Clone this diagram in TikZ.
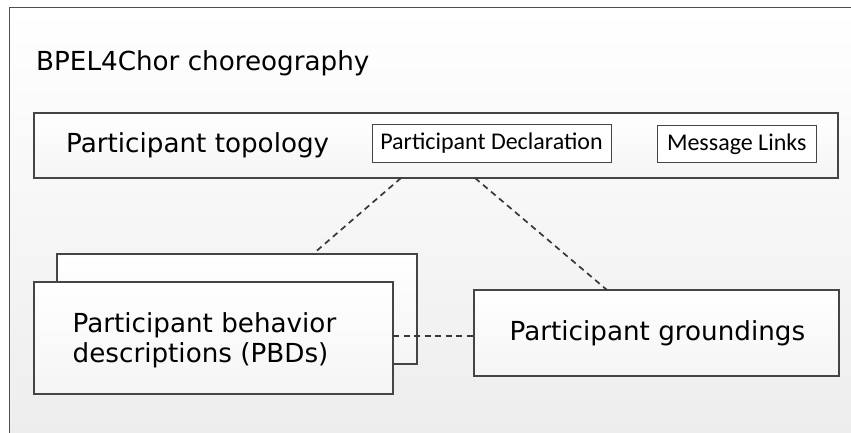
\documentclass[tikz,border=0pt]{standalone}
\usepackage{fontspec}
\newfontfamily\dejavu{DejaVu Sans}
\newfontfamily\carlito{Carlito}
\definecolor{frameline}{HTML}{505050}
\definecolor{boxline}{HTML}{454545}
\definecolor{dashline}{HTML}{383838}
\begin{document}
\begin{tikzpicture}[x=1pt,y=-1pt,
  box/.style={draw=boxline, line width=1.3pt, top color=white, bottom color=black!4,
    inner sep=0pt, outer sep=0pt},
  tag/.style={draw=boxline, line width=1pt, fill=white, inner sep=0pt, outer sep=0pt,
    font=\carlito\fontsize{24}{24}\selectfont},
  bigtext/.style={inner sep=0pt, anchor=base west, font=\dejavu\fontsize{26.2}{26}\selectfont},
  link/.style={draw=dashline, line width=1.7pt, dash pattern=on 6pt off 4.5pt}]
\useasboundingbox (0,0) rectangle (851,433);
% choreography frame
\fill[top color=white, bottom color=black!7] (9,8) rectangle (851,433);
\draw[frameline, line width=1pt] (9,433) -- (9,8) -- (851,8);
\node[bigtext] (title) at (36,71) {BPEL4Chor choreography};

% participant topology
\node[box, minimum width=804pt, minimum height=65pt] (topo) at (436,145.5) {};
\node[bigtext] (topotext) at (66,153) {Participant topology};
\node[tag, minimum width=239pt, minimum height=37pt] (decl) at (491.5,143.5) {Participant Declaration};
\node[tag, minimum width=158.5pt, minimum height=36pt] (links) at (736.75,144) {Message Links};

% participant behavior descriptions (stacked)
\node[box, minimum width=360pt, minimum height=110pt] (pbdback) at (237,309) {};
\node[box, minimum width=359pt, minimum height=112pt] (pbd) at (213.5,338) {};
\node[bigtext] (pbdtext1) at (72.5,332) {Participant behavior};
\node[bigtext] (pbdtext2) at (72.5,362) {descriptions (PBDs)};

% participant groundings
\node[box, minimum width=365pt, minimum height=86pt] (ground) at (656.5,333) {};
\node[bigtext] (groundtext) at (509.5,340.5) {Participant groundings};

% connectors
\draw[link] ([xshift=-35pt]topo.south) -- ([xshift=76pt]pbdback.north);
\draw[link] ([xshift=39pt]topo.south) -- ([xshift=-49.5pt]ground.north);
\draw[link] ([yshift=2pt]pbd.east) -- ([yshift=-3pt]ground.west);
\end{tikzpicture}
\end{document}
